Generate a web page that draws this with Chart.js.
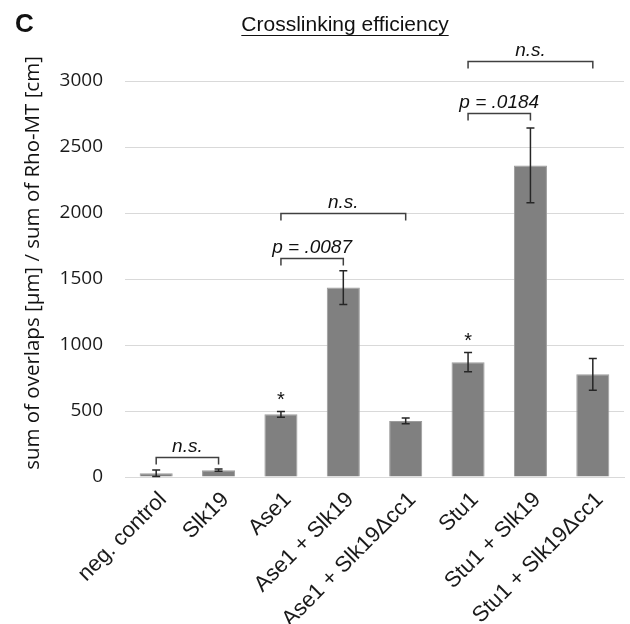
<!DOCTYPE html>
<html>
<head>
<meta charset="utf-8">
<script src="https://cdn.jsdelivr.net/npm/chart.js@4.4.1/dist/chart.umd.min.js"></script>
<style>
  html, body { margin: 0; padding: 0; background: #fff; }
</style>
</head>
<body>
<canvas id="myChart" width="630" height="624"></canvas>
<script>
  // data
  let labels = ['neg. control', 'Slk19', 'Ase1', 'Ase1 + Slk19', 'Ase1 + Slk19\u0394cc1', 'Stu1', 'Stu1 + Slk19', 'Stu1 + Slk19\u0394cc1'];
  let means = [28, 52, 475, 1435, 425, 870, 2360, 778];
  let errors = [25, 8, 22, 128, 22, 73, 283, 120];
  let stars = ['', '', '*', '', '', '*', '', ''];
  let yTicks = [0, 500, 1000, 1500, 2000, 2500, 3000];

  // significance brackets
  let bracketFrom = [0, 2, 2, 5, 5];
  let bracketTo = [1, 3, 4, 6, 7];
  let bracketLevel = [152, 1662, 2000, 2761, 3149];
  let bracketText = ['n.s.', 'p = .0087', 'n.s.', 'p = .0184', 'n.s.'];

  let ctx = document.getElementById('myChart').getContext('2d');

  const extras = {
      id: 'extras',
      afterDatasetsDraw(chart) {
          const c = chart.ctx;
          const y = chart.scales.y;
          const bars = chart.getDatasetMeta(0).data;

          // error bars + stars
          c.save();
          c.strokeStyle = '#262626';
          c.lineWidth = 1.5;
          c.fillStyle = '#111';
          c.font = '20px "Liberation Sans"';
          c.textAlign = 'center';
          c.textBaseline = 'middle';
          bars.forEach((bar, i) => {
              const top = y.getPixelForValue(means[i] + errors[i]);
              const bot = y.getPixelForValue(Math.max(0, means[i] - errors[i]));
              c.beginPath();
              c.moveTo(bar.x, top); c.lineTo(bar.x, bot);
              c.moveTo(bar.x - 4, top); c.lineTo(bar.x + 4, top);
              c.moveTo(bar.x - 4, bot); c.lineTo(bar.x + 4, bot);
              c.stroke();
              if (stars[i]) {
                  c.fillText(stars[i], bar.x, top - 11);
              }
          });

          // brackets
          c.strokeStyle = '#404040';
          c.font = 'italic 19px "Liberation Sans"';
          c.textBaseline = 'alphabetic';
          for (let k = 0; k < bracketFrom.length; k++) {
              const x1 = bars[bracketFrom[k]].x;
              const x2 = bars[bracketTo[k]].x;
              const by = Math.round(y.getPixelForValue(bracketLevel[k])) + 0.5;
              c.beginPath();
              c.moveTo(x1, by + 7); c.lineTo(x1, by); c.lineTo(x2, by); c.lineTo(x2, by + 7);
              c.stroke();
              c.fillText(bracketText[k], (x1 + x2) / 2, by - 6);
          }
          c.restore();
      },
      afterDraw(chart) {
          const c = chart.ctx;
          c.save();
          c.fillStyle = '#111';

          // panel letter
          c.font = 'bold 26px "Liberation Sans"';
          c.textAlign = 'left';
          c.fillText('C', 15, 32);

          // underlined title
          c.font = '21px "Liberation Sans"';
          c.textAlign = 'center';
          const t = 'Crosslinking efficiency';
          c.fillText(t, 345, 31);
          const w = c.measureText(t).width;
          c.strokeStyle = '#111';
          c.lineWidth = 1.2;
          c.beginPath();
          c.moveTo(345 - w / 2, 35.5); c.lineTo(345 + w / 2, 35.5);
          c.stroke();

          // y axis title
          c.translate(33, 263);
          c.rotate(-Math.PI / 2);
          c.font = '20.5px "Open Sans"';
          c.textBaseline = 'middle';
          c.fillText('sum of overlaps [\u00b5m] / sum of Rho-MT [cm]', 0, 0);
          c.restore();
      }
  };

  let myChart = new Chart(ctx, {
      type: 'bar',
      data: {
          labels: labels,
          datasets: [{
              data: means,
              backgroundColor: '#808080',
              borderColor: '#9c9c9c',
              borderWidth: 1,
              barPercentage: 0.53,
              categoryPercentage: 1.0
          }]
      },
      options: {
          responsive: false,
          animation: false,
          devicePixelRatio: 1,
          layout: {
              padding: { top: 81, right: 6, left: 0, bottom: 0 }
          },
          scales: {
              x: {
                  grid: { display: false, drawTicks: false },
                  border: { color: '#d9d9d9' },
                  ticks: {
                      minRotation: 45,
                      maxRotation: 45,
                      autoSkip: false,
                      color: '#1a1a1a',
                      padding: 10,
                      labelOffset: 7,
                      font: { family: 'Liberation Sans', size: 22 }
                  },
                  afterFit: function (scale) { scale.height = 147; }
              },
              y: {
                  min: 0,
                  max: 3000,
                  afterBuildTicks: function (scale) {
                      scale.ticks = yTicks.map(v => ({ value: v }));
                  },
                  grid: { color: '#d9d9d9', drawTicks: false },
                  border: { display: false },
                  ticks: {
                      color: '#1a1a1a',
                      padding: 22,
                      font: { family: 'Open Sans', size: 19 },
                      callback: function (value) { return String(value); }
                  },
                  afterFit: function (scale) { scale.width = 125; }
              }
          },
          plugins: {
              legend: { display: false },
              tooltip: { enabled: false }
          }
      },
      plugins: [extras]
  });
</script>
</body>
</html>
